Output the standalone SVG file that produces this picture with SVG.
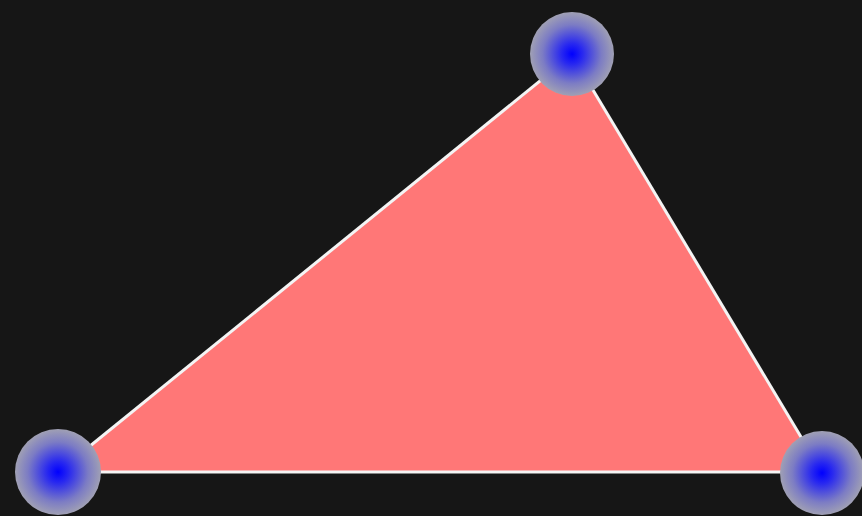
<svg xmlns="http://www.w3.org/2000/svg" width="862" height="516" viewBox="0 0 862 516">
<defs>
<radialGradient id="g">
<stop offset="0" stop-color="#0000ff"/>
<stop offset="0.25" stop-color="#2828f0"/>
<stop offset="0.7" stop-color="#7c7cc4"/>
<stop offset="1" stop-color="#a0a0b4"/>
</radialGradient>
<style>
.n{fill:url(#g)}
.e{stroke:#f4f4f4;stroke-width:3;fill:none}
</style>
</defs>
<rect width="862" height="516" fill="#161616"/>
<polygon points="572,55 58,472 822,472" fill="#ff7777"/>
<g id="connectors">
<line class="e" x1="572" y1="55" x2="58" y2="472"/>
<line class="e" x1="572" y1="55" x2="822" y2="472"/>
<line class="e" x1="58" y1="472" x2="822" y2="472"/>
</g>
<g id="top"><circle class="n" cx="572" cy="54" r="42"/></g>
<g id="left"><circle class="n" cx="58" cy="472" r="43"/></g>
<g id="right"><circle class="n" cx="822" cy="473" r="42"/></g>
</svg>
